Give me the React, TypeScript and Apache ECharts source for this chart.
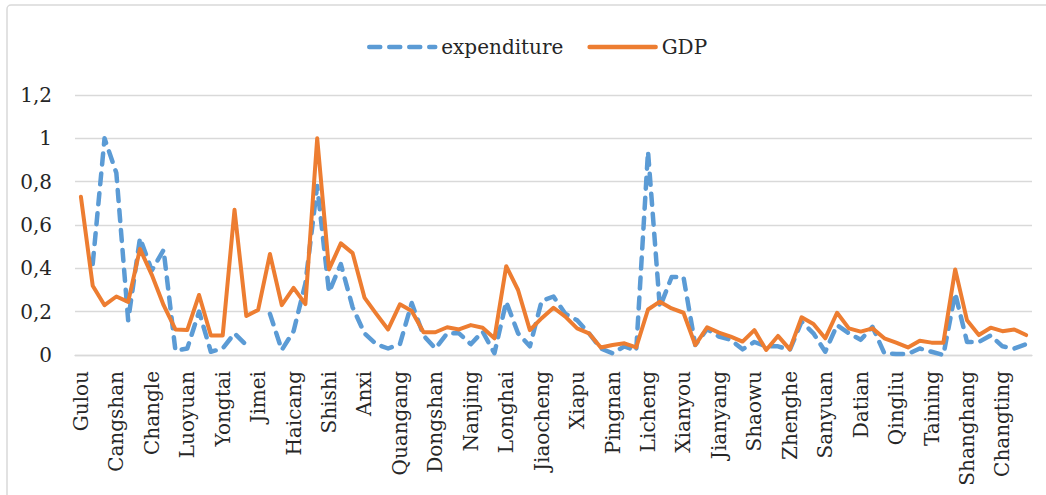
import React, { useEffect, useRef } from "react";
import * as echarts from "echarts";

const categories: string[] = [
  "Gulou", "Taijiang", "Jin'an", "Cangshan", "Mawei", "Fuqing", "Changle", "Minhou", "Lianjiang",
  "Luoyuan", "Minqing", "Pingtan", "Yongtai", "Siming", "Huli", "Jimei", "Tong'an", "Xiang'an",
  "Haicang", "Fengze", "Jinjiang", "Shishi", "Nan'an", "Hui'an", "Anxi", "Yongchun", "Dehua",
  "Quangang", "Luojiang", "Zhangpu", "Dongshan", "Zhao'an", "Pinghe", "Nanjing", "Hua'an", "Changtai",
  "Longhai", "Yunxiao", "Longwen", "Jiaocheng", "Fu'an", "Fuding", "Xiapu", "Gutian", "Zherong",
  "Pingnan", "Shouning", "Zhouning", "Licheng", "Chengxiang", "Hanjiang", "Xianyou", "Xiuyu", "Yanping",
  "Jianyang", "Wuyishan", "Jian'ou", "Shaowu", "Shunchang", "Pucheng", "Zhenghe", "Guangze", "Songxi",
  "Sanyuan", "Meilie", "Yong'an", "Datian", "Youxi", "Mingxi", "Qingliu", "Ninghua", "Jiangle",
  "Taining", "Jianning", "Xinluo", "Shanghang", "Yongding", "Zhangping", "Changting", "Wuping", "Liancheng",
];

const expenditure: (number | null)[] = [
  null, 0.42, 1.0, 0.84, 0.16, 0.54, 0.39, 0.485, 0.02,
  0.03, 0.2, 0.015, 0.03, 0.1, 0.046, null, 0.19, 0.023,
  0.11, 0.33, 0.78, 0.29, 0.42, 0.22, 0.1, 0.05, 0.03,
  0.05, 0.24, 0.09, 0.03, 0.1, 0.1, 0.05, 0.108, 0.008,
  0.246, 0.1, 0.04, 0.25, 0.27, 0.19, 0.16, 0.1, 0.03,
  0.008, 0.04, 0.02, 0.94, 0.22, 0.36, 0.36, 0.046, 0.12,
  0.085, 0.07, 0.026, 0.06, 0.04, 0.04, 0.023, 0.154, 0.1,
  0.015, 0.138, 0.1, 0.07, 0.13, 0.008, 0.005, 0.005, 0.03,
  0.015, 0.0, 0.285, 0.06, 0.06, 0.09, 0.04, 0.03, 0.05,
];

const gdp: number[] = [
  0.73, 0.32, 0.23, 0.27, 0.245, 0.49, 0.37, 0.23, 0.118,
  0.115, 0.277, 0.09, 0.09, 0.67, 0.18, 0.208, 0.466, 0.23,
  0.31, 0.235, 1.0, 0.395, 0.515, 0.47, 0.265, 0.19, 0.118,
  0.234, 0.203, 0.105, 0.105, 0.128, 0.118, 0.138, 0.126, 0.077,
  0.41, 0.3, 0.115, 0.17, 0.218, 0.177, 0.123, 0.1, 0.035,
  0.046, 0.054, 0.035, 0.21, 0.246, 0.215, 0.195, 0.046, 0.128,
  0.103, 0.085, 0.062, 0.115, 0.023, 0.088, 0.026, 0.174, 0.143,
  0.077, 0.195, 0.123, 0.108, 0.123, 0.077, 0.057, 0.035, 0.066,
  0.057, 0.057, 0.395, 0.16, 0.092, 0.126, 0.11, 0.118, 0.092,
];

const FONT = "DejaVu Serif";
const BLUE = "#5B9BD5";
const ORANGE = "#ED7D31";
const GRID = "#d9d9d9";
const TEXT = "#262626";
const DASH = [11, 9];

export default function App() {
  const ref = useRef<HTMLDivElement>(null);
  useEffect(() => {
    if (!ref.current) return;
    const chart = echarts.init(ref.current, null, { renderer: "svg" });
    chart.setOption({
      animation: false,
      backgroundColor: "#ffffff",
      graphic: [
        {
          type: "rect",
          shape: { x: 7, y: 5, width: 1100, height: 600, r: 4 },
          style: { fill: "none", stroke: GRID, lineWidth: 1.5 },
          silent: true,
        },
      ],
      legend: {
        left: 362,
        top: 32,
        itemWidth: 66,
        itemHeight: 8,
        itemGap: 24,
        itemStyle: { opacity: 0 },
        lineStyle: { width: 4.5, cap: "round" },
        textStyle: { fontFamily: FONT, fontSize: 20, color: TEXT, padding: [0, 0, 0, 1] },
        data: ["expenditure", "GDP"],
      },
      grid: { left: 75, right: 14, top: 95, bottom: 140 },
      xAxis: {
        type: "category",
        data: categories,
        boundaryGap: true,
        axisTick: { show: false },
        axisLine: { lineStyle: { color: GRID, width: 1.3 } },
        axisLabel: {
          interval: 2,
          rotate: 90,
          margin: 16,
          fontFamily: FONT,
          fontSize: 20,
          color: TEXT,
        },
      },
      yAxis: {
        type: "value",
        min: 0,
        max: 1.2,
        interval: 0.2,
        axisLine: { show: false },
        axisTick: { show: false },
        splitLine: { lineStyle: { color: GRID, width: 1.3 } },
        axisLabel: {
          margin: 23,
          fontFamily: FONT,
          fontSize: 20,
          color: TEXT,
          formatter: (v: number) => String(Math.round(v * 10) / 10).replace(".", ","),
        },
      },
      series: [
        {
          name: "expenditure",
          type: "line",
          data: expenditure,
          symbol: "none",
          showSymbol: false,
          itemStyle: { color: BLUE },
          lineStyle: { color: BLUE, width: 4.5, type: DASH, cap: "round", join: "round" },
          z: 2,
        },
        {
          name: "GDP",
          type: "line",
          data: gdp,
          symbol: "none",
          showSymbol: false,
          itemStyle: { color: ORANGE },
          lineStyle: { color: ORANGE, width: 4, cap: "round", join: "round" },
          z: 3,
        },
      ],
    });
    return () => chart.dispose();
  }, []);
  return (
    <div
      ref={ref}
      style={{ position: "absolute", left: 0, top: 0, width: 1046, height: 495 }}
    />
  );
}
